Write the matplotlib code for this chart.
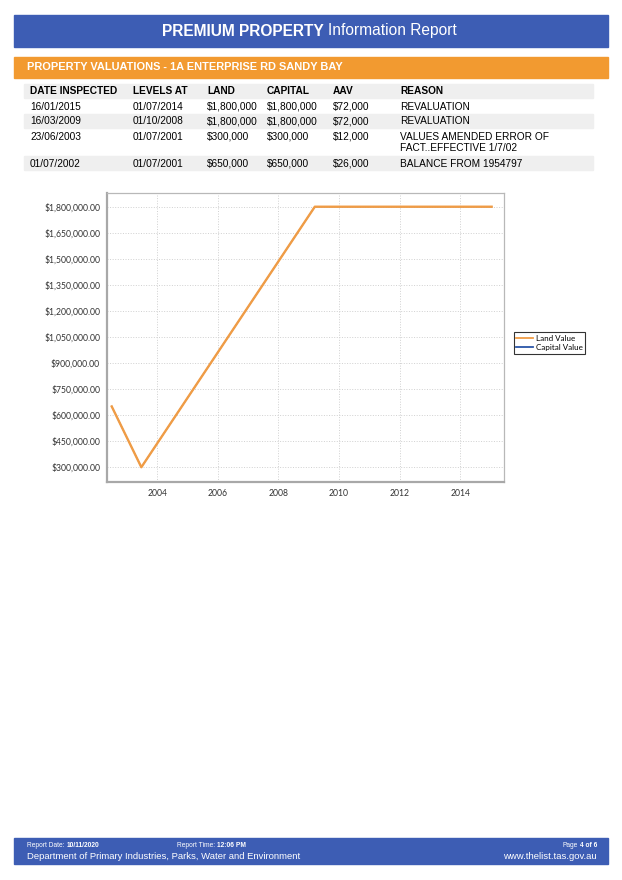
import datetime as dt
import matplotlib
matplotlib.use('Agg')
import matplotlib.pyplot as plt
from matplotlib.patches import Rectangle
from matplotlib.ticker import FuncFormatter, FixedLocator

# datos de la tabla de valuaciones
date_inspected = ['16/01/2015', '16/03/2009', '23/06/2003', '01/07/2002']
levels_at = ['01/07/2014', '01/10/2008', '01/07/2001', '01/07/2001']
land = ['$1,800,000', '$1,800,000', '$300,000', '$650,000']
capital = ['$1,800,000', '$1,800,000', '$300,000', '$650,000']
aav = ['$72,000', '$72,000', '$12,000', '$26,000']
reason = ['REVALUATION', 'REVALUATION', 'VALUES AMENDED ERROR OF\nFACT..EFFECTIVE 1/7/02',
          'BALANCE FROM 1954797']

# datos del grafico (orden cronologico)
chart_dates = ['01/07/2002', '23/06/2003', '16/03/2009', '16/01/2015']
land_value = [650000, 300000, 1800000, 1800000]
capital_value = [650000, 300000, 1800000, 1800000]
year_ticks = [2004, 2006, 2008, 2010, 2012, 2014]
value_ticks = [300000, 450000, 600000, 750000, 900000, 1050000, 1200000,
               1350000, 1500000, 1650000, 1800000]

BLUE = '#3d5db4'
ORANGE = '#f29a30'
LINE_ORANGE = '#f09c45'
W, H = 622, 880


def decimal_year(s):
    d = dt.datetime.strptime(s, '%d/%m/%Y')
    start = dt.datetime(d.year, 1, 1)
    end = dt.datetime(d.year + 1, 1, 1)
    return d.year + (d - start).total_seconds() / (end - start).total_seconds()


def fx(px):
    return px / W


def fy(py):
    return 1 - py / H


def bar(x0, y0, x1, y1, color):
    fig.patches.append(Rectangle((fx(x0), fy(y1)), fx(x1) - fx(x0), fy(y0) - fy(y1),
                                 transform=fig.transFigure, color=color, zorder=0))


def label_value(x, y, label, value, size, right=False):
    # texto normal + texto en negrita, alineado a la izquierda o a la derecha
    r = fig.canvas.get_renderer()
    if not right:
        t = fig.text(fx(x), fy(y), label, color='white', fontsize=size, ha='left', va='center')
        bb = t.get_window_extent(renderer=r)
        fig.text(fx(bb.x1 + 2), fy(y), value, color='white', fontsize=size,
                 fontweight='bold', ha='left', va='center')
    else:
        t = fig.text(fx(x), fy(y), value, color='white', fontsize=size,
                     fontweight='bold', ha='right', va='center')
        bb = t.get_window_extent(renderer=r)
        fig.text(fx(bb.x0 - 2), fy(y), label, color='white', fontsize=size,
                 ha='right', va='center')


plt.rcParams['font.family'] = ['Liberation Sans', 'DejaVu Sans']
fig = plt.figure(figsize=(6.22, 8.8), dpi=100)

# cabecera
bar(14, 15, 608, 47, BLUE)
fig.text(fx(324), fy(31), 'PREMIUM PROPERTY', color='white', fontsize=11.2,
         fontweight='bold', ha='right', va='center')
fig.text(fx(328), fy(31), 'Information Report', color='white', fontsize=11.2,
         ha='left', va='center')

bar(14, 57, 608, 78, ORANGE)
fig.text(fx(27), fy(67.5), 'PROPERTY VALUATIONS - 1A ENTERPRISE RD SANDY BAY', color='white',
         fontsize=7.9, fontweight='bold', ha='left', va='center')

# tabla
cols_x = [30, 133, 207, 267, 333, 400]
headers = ['DATE INSPECTED', 'LEVELS AT', 'LAND', 'CAPITAL', 'AAV', 'REASON']
bar(24, 84, 593, 98, '#efefef')
for x, h in zip(cols_x, headers):
    fig.text(fx(x), fy(91.5), h, fontsize=7.3, fontweight='bold', ha='left', va='center')

row_top = [99, 114, 129, 156]
row_bot = [113, 128, 155, 170]
for i in range(len(date_inspected)):
    if i % 2 == 1:
        bar(24, row_top[i], 593, row_bot[i], '#efefef')
    vals = [date_inspected[i], levels_at[i], land[i], capital[i], aav[i], reason[i]]
    for x, v in zip(cols_x, vals):
        fig.text(fx(x), fy(row_top[i] + 2.5), v, fontsize=7.3, ha='left', va='top',
                 linespacing=1.2)

# grafico
ax = fig.add_axes([fx(107), fy(482), fx(504) - fx(107), fy(193) - fy(482)])
xs = [decimal_year(d) for d in chart_dates]
ax.plot(xs, capital_value, color='#2a55a8', lw=0.8, label='Capital Value', zorder=2)
ax.plot(xs, land_value, color=LINE_ORANGE, lw=1.7, label='Land Value', zorder=3)
ax.set_xlim(2002.34, 2015.45)
ax.set_ylim(215000, 1879000)
ax.xaxis.set_major_locator(FixedLocator(year_ticks))
ax.yaxis.set_major_locator(FixedLocator(value_ticks))
ax.xaxis.set_major_formatter(FuncFormatter(lambda v, p: f'{int(v)}'))
ax.yaxis.set_major_formatter(FuncFormatter(lambda v, p: f'${v:,.2f}'))
ax.grid(True, linestyle=':', color='#d0d0d0', lw=0.7)
ax.tick_params(length=0, pad=5, labelsize=6.2, labelcolor='#333333')
for lab in ax.get_xticklabels() + ax.get_yticklabels():
    lab.set_family(['Lato', 'DejaVu Sans'])
for side in ['left', 'bottom']:
    ax.spines[side].set_color('#a8a8a8')
    ax.spines[side].set_linewidth(1.6)
for side in ['top', 'right']:
    ax.spines[side].set_color('#b8b8b8')
    ax.spines[side].set_linewidth(0.9)

handles, labels = ax.get_legend_handles_labels()
leg = fig.legend(handles[::-1], labels[::-1], loc='center left',
                 bbox_to_anchor=(fx(514), fy(343)), frameon=True, fancybox=False,
                 prop={'family': ['Lato', 'DejaVu Sans'], 'size': 5.8},
                 handlelength=2.0, handletextpad=0.4, borderpad=0.3,
                 labelspacing=0.3, borderaxespad=0)
leg.get_frame().set_edgecolor('black')
leg.get_frame().set_linewidth(0.8)
for h in leg.legend_handles:
    h.set_linewidth(1.3)

# pie de pagina
bar(14, 838, 608, 864, BLUE)
label_value(27, 845, 'Report Date:', '10/11/2020', 4.8)
label_value(177, 845, 'Report Time:', '12:06 PM', 4.8)
label_value(597, 845, 'Page', '4 of 6', 4.8, right=True)
fig.text(fx(27), fy(856), 'Department of Primary Industries, Parks, Water and Environment',
         color='white', fontsize=6.8, ha='left', va='center')
fig.text(fx(597), fy(856), 'www.thelist.tas.gov.au', color='white', fontsize=6.8,
         ha='right', va='center')

fig.savefig('out.png', dpi=100)
